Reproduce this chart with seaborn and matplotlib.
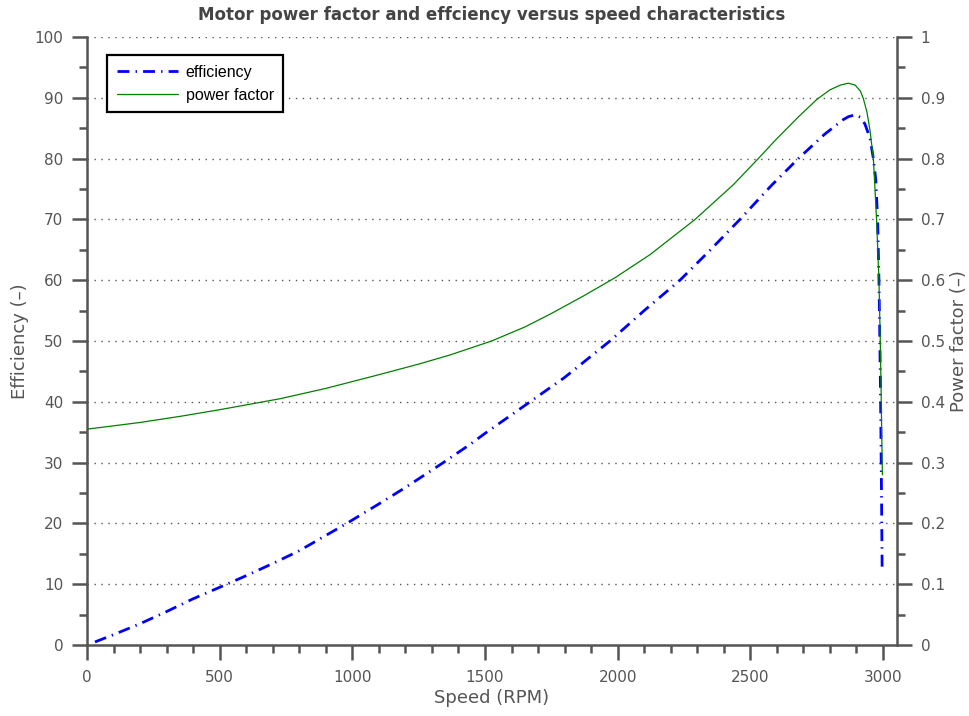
import matplotlib
matplotlib.use("Agg")
import matplotlib.pyplot as plt
import seaborn as sns
import pandas as pd
from matplotlib.ticker import MultipleLocator

# ---- data ----
speed_eff = [30, 100, 200, 300, 400, 527, 600, 700, 800, 979, 1100, 1200, 1343,
             1444, 1500, 1670, 1800, 1971, 2100, 2235, 2350, 2461, 2580, 2681,
             2780, 2850, 2870, 2895, 2915, 2932, 2951, 2964, 2973, 2980, 2985,
             2988, 2991, 2993, 2995, 2997]
efficiency = [0.5, 1.7, 3.5, 5.5, 7.6, 10.0, 11.4, 13.4, 15.5, 20.0, 23.2, 25.9,
              30.0, 33.0, 34.8, 40.0, 44.0, 50.0, 55.0, 60.0, 65.0, 70.0, 75.6,
              80.0, 84.0, 86.4, 86.9, 87.2, 86.8, 85.7, 83.4, 80.0, 76.5, 70.0,
              60.0, 51.0, 41.0, 32.0, 23.0, 12.3]

speed_pf = [0, 200, 350, 500, 727, 900, 1104, 1250, 1368, 1525, 1650, 1745,
            1871, 1990, 2122, 2292, 2436, 2530, 2594, 2680, 2750, 2800, 2840,
            2870, 2895, 2915, 2926, 2940, 2951, 2964, 2976, 2985, 2990, 2993,
            2996, 2998]
power_factor = [0.355, 0.366, 0.376, 0.387, 0.405, 0.422, 0.445, 0.462, 0.477,
                0.500, 0.523, 0.544, 0.574, 0.604, 0.642, 0.700, 0.757, 0.800,
                0.830, 0.868, 0.897, 0.913, 0.921, 0.924, 0.921, 0.911, 0.899,
                0.876, 0.847, 0.800, 0.700, 0.600, 0.500, 0.420, 0.330, 0.280]

x_ticks = [0, 500, 1000, 1500, 2000, 2500, 3000]
title = "Motor power factor and effciency versus speed characteristics"

df_eff = pd.DataFrame({"speed": speed_eff, "value": efficiency})
df_pf = pd.DataFrame({"speed": speed_pf, "value": power_factor})

sns.set_theme(style="white")
plt.rcParams["font.family"] = ["DejaVu Sans"]

GRAY = "#555555"
fig = plt.figure(figsize=(9.7, 7.16), dpi=100)
ax = fig.add_axes([87 / 970, 71 / 716, 810 / 970, 608 / 716])
ax2 = ax.twinx()

sns.lineplot(data=df_eff, x="speed", y="value", ax=ax, color="#0000ff",
             linewidth=2.0, estimator=None, label="efficiency", legend=False)
ax.lines[0].set_linestyle((0, (4.3, 2.2, 0.5, 2.2)))
sns.lineplot(data=df_pf, x="speed", y="value", ax=ax2, color="#008000",
             linewidth=0.9, estimator=None, label="power factor", legend=False)

ax.set_xlim(0, 3053)
ax.set_ylim(0, 100)
ax2.set_ylim(0, 1)
ax.set_xticks(x_ticks)
ax.set_yticks(range(0, 101, 10))
ax2.set_yticks([i / 10 for i in range(11)])
ax2.set_yticklabels(["0", "0.1", "0.2", "0.3", "0.4", "0.5", "0.6", "0.7",
                     "0.8", "0.9", "1"])
ax.xaxis.set_minor_locator(MultipleLocator(100))
ax.yaxis.set_minor_locator(MultipleLocator(5))
ax2.yaxis.set_minor_locator(MultipleLocator(0.05))

ax.grid(False)
ax2.grid(False)
ax.yaxis.grid(True, which="major", linestyle=(0, (1, 4)), color="#555555",
              linewidth=1.0)
ax.set_axisbelow(True)

for a in (ax, ax2):
    a.spines["top"].set_visible(False)
    for s in a.spines.values():
        s.set_color(GRAY)
        s.set_linewidth(1.8)
ax.spines["right"].set_visible(False)
ax2.spines["left"].set_visible(False)
ax2.spines["bottom"].set_visible(False)

for a in (ax, ax2):
    a.tick_params(axis="y", which="major", direction="out", length=11, width=1.8,
                  color=GRAY, labelcolor=GRAY, labelsize=11, pad=6)
    a.tick_params(axis="y", which="minor", direction="out", length=6, width=1.8,
                  color=GRAY)
ax.tick_params(axis="x", which="major", direction="out", length=11, width=1.8,
               color=GRAY, labelcolor=GRAY, labelsize=11, pad=7)
ax.tick_params(axis="x", which="minor", direction="out", length=6, width=1.8,
               color=GRAY)
ax.tick_params(left=True, bottom=True, which="both")
ax2.tick_params(right=True, which="both")

ax.set_xlabel("Speed (RPM)", fontsize=13, color=GRAY, labelpad=3)
ax.set_ylabel("Efficiency (–)", fontsize=13, color=GRAY, labelpad=4)
ax2.set_ylabel("Power factor (–)", fontsize=13, color=GRAY, labelpad=4)
ax.set_title(title, fontsize=12, fontweight="bold", color="#444444", pad=12)

h1, l1 = ax.get_legend_handles_labels()
h2, l2 = ax2.get_legend_handles_labels()
leg = ax2.legend(h1 + h2, l1 + l2, loc="upper left",
                 bbox_to_anchor=(0.025, 0.97), borderaxespad=0,
                 fancybox=False, framealpha=1, edgecolor="black",
                 prop={"family": "Liberation Sans", "size": 11.5},
                 handlelength=3.8, borderpad=0.6, labelspacing=0.5,
                 handletextpad=0.5)
leg.get_frame().set_linewidth(1.6)
for t in leg.get_texts():
    t.set_color("black")

fig.savefig("out.png", dpi=100)
